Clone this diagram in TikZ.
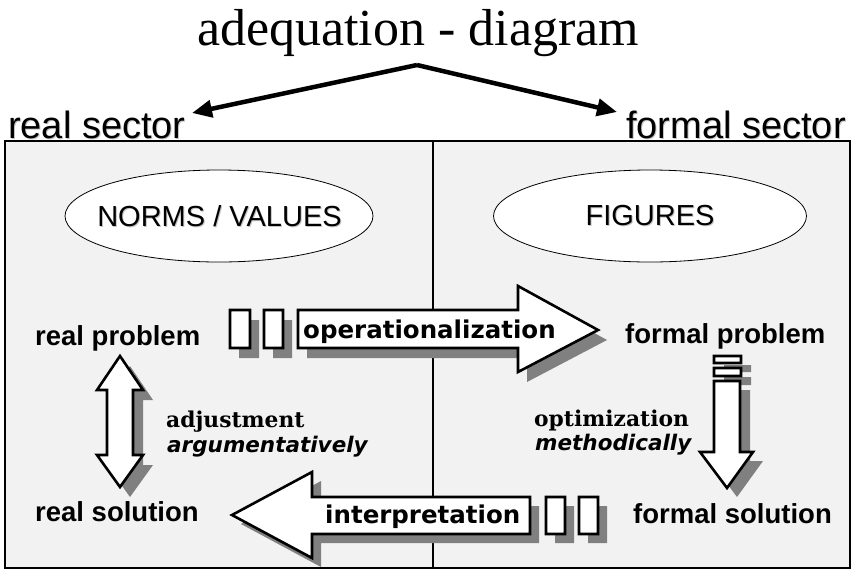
\documentclass[tikz,border=0pt]{standalone}
\usepackage{fontspec}
\setmainfont{Liberation Serif}
\setsansfont{Liberation Sans}
\newfontfamily\djsans{DejaVu Sans}
\newfontfamily\djserif{DejaVu Serif}
\usetikzlibrary{arrows.meta,shapes.geometric}
\definecolor{panel}{HTML}{F2F2F2}
\definecolor{shade}{HTML}{808080}
\definecolor{tshade}{HTML}{C4C4C4}
\tikzset{
  sectortext/.style={font=\sffamily\fontsize{38pt}{40pt}\selectfont, inner sep=0pt},
  ovaltext/.style={font=\sffamily\fontsize{29pt}{31pt}\selectfont, inner sep=0pt},
  oval/.style={draw, fill=white, ellipse, line width=0.8pt, inner sep=0pt},
  labeltext/.style={font=\sffamily\bfseries\fontsize{27.5pt}{30pt}\selectfont, inner sep=0pt, anchor=base west},
  serifnote/.style={font=\djserif\bfseries\fontsize{21.8pt}{24pt}\selectfont, inner sep=0pt, anchor=base west},
  italnote/.style={font=\djsans\bfseries\itshape\fontsize{21.5pt}{24pt}\selectfont, inner sep=0pt, anchor=base west},
  arrowtext/.style={font=\djsans\bfseries\fontsize{24.5pt}{27pt}\selectfont, inner sep=0pt, anchor=base west},
  titlearrow/.style={line width=4.5pt, -{Triangle[length=20pt,width=17pt]}},
  blockshadow/.style={fill=shade, draw=none},
  blockbody/.style={fill=white, draw=black, line width=2.6pt, line join=miter},
  opshape/.style={insert path={(230,310) rectangle (250,348) (264,310) rectangle (283,348)
      (298,310) -- (518,310) -- (518,286) -- (598,330) -- (518,372) -- (518,348) -- (298,348) -- cycle}},
  inshape/.style={insert path={(546,497) rectangle (565,534) (579,497) rectangle (598,534)
      (530,497) -- (312,497) -- (312,472) -- (232,515) -- (312,558) -- (312,534) -- (530,534) -- cycle}},
  dnshape/.style={insert path={(714,356) rectangle (741,363) (714,368) rectangle (741,376)
      (714,381) -- (740,381) -- (740,452) -- (753,452) -- (727,488) -- (700,452) -- (714,452) -- cycle}},
  dbshape/.style={insert path={(120,356) -- (143,390) -- (133,390) -- (133,455) -- (143,455) -- (120,487)
      -- (97,455) -- (107,455) -- (107,390) -- (97,390) -- cycle}},
}
\begin{document}
\begin{tikzpicture}[x=1pt,y=-1pt]
\useasboundingbox (0,0) rectangle (853,571);

% title and sector headings
\node[anchor=base, inner sep=0pt, font=\rmfamily\fontsize{52pt}{56pt}\selectfont] (title) at (418,45) {adequation - diagram};
\node[sectortext, anchor=base west, text=tshade] (rssh) at (9,139) {real sector};
\node[sectortext, anchor=base west] (rs) at (8,138) {real sector};
\node[sectortext, anchor=base east, text=tshade] (fssh) at (847,139) {formal sector};
\node[sectortext, anchor=base east] (fs) at (846,138) {formal sector};

\coordinate (apex) at (417,65);
\coordinate (ltip) at (192,113);
\coordinate (rtip) at (617,112);
\draw[titlearrow] (apex) -- (ltip);
\draw[titlearrow] (apex) -- (rtip);

% panel
\draw[fill=panel, line width=1.2pt] (5,141) rectangle (850,568);
\draw[line width=1.2pt] (433,141) -- (433,568);

% ellipses
\node[oval, minimum width=308pt, minimum height=92pt] (norms) at (219,216) {};
\node[oval, minimum width=313pt, minimum height=92pt] (figs) at (650,216) {};
\node[ovaltext, text=tshade] (normssh) at (220.5,217) {NORMS / VALUES};
\node[ovaltext] (normst) at (219.5,216) {NORMS / VALUES};
\node[ovaltext, text=tshade] (figssh) at (651,217) {FIGURES};
\node[ovaltext] (figst) at (650,216) {FIGURES};

% block arrow shadows
\path[blockshadow, shift={(9,10)}, opshape];
\path[blockshadow, shift={(9,9)}, inshape];
\path[blockshadow, shift={(10,9)}, dnshape];
\path[blockshadow, shift={(10,10)}, dbshape];

% block arrows
\path[blockbody, opshape];
\path[blockbody, inshape];
\path[blockbody, dnshape];
\path[blockbody, dbshape];

\node[arrowtext] (op) at (303,338) {operationalization};
\node[arrowtext] (interp) at (325,523) {interpretation};

% labels
\node[labeltext] (rp) at (35,345) {real problem};
\node[labeltext] (rsol) at (35,521) {real solution};
\node[labeltext] (fp) at (625,343) {formal problem};
\node[labeltext] (fsol) at (633,523) {formal solution};

\node[serifnote] (adj) at (166,427) {adjustment};
\node[italnote] (arg) at (167,452) {argumentatively};
\node[serifnote] (opt) at (534,426) {optimization};
\node[italnote] (meth) at (535,450) {methodically};
\end{tikzpicture}
\end{document}
